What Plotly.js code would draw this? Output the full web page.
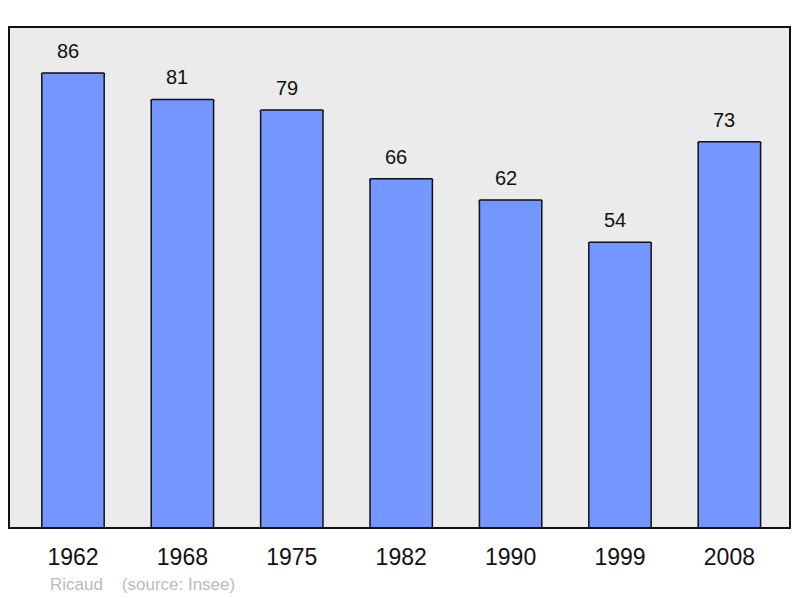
<!DOCTYPE html>
<html>
<head>
<meta charset="utf-8">
<script src="https://cdn.plot.ly/plotly-3.0.1.min.js"></script>
<style>
  body { margin: 0; background: #fff; }
  #chart { width: 800px; height: 598px; }
</style>
</head>
<body>
<div id="chart"></div>
<script>
// population by census year
var years = ['1962', '1968', '1975', '1982', '1990', '1999', '2008']
var population = [86, 81, 79, 66, 62, 54, 73]

var idx = years.map(function (y, i) { return i })

var data = [{
  x: idx,
  y: population,
  type: 'bar',
  width: 0.57,
  marker: {
    color: '#7396ff',
    line: { color: '#111111', width: 1.5 },
    cornerradius: 2
  },
  hoverinfo: 'none'
}]

var labels = []
for (i = 0; i < population.length; i++) {
  labels.push({
    x: idx[i],
    y: population[i],
    text: String(population[i]),
    showarrow: false,
    yshift: 22,
    xshift: -5,
    font: { family: 'Liberation Sans, Arial, sans-serif', size: 20, color: '#111' }
  })
}

labels.push({
  xref: 'paper', yref: 'paper',
  x: 39 / 781, y: -56 / 501,
  xanchor: 'left', yanchor: 'middle',
  text: 'Ricaud&nbsp;&nbsp;&nbsp;&nbsp;(source: Insee)',
  showarrow: false,
  font: { family: 'Liberation Sans, Arial, sans-serif', size: 17, color: '#bbbbbb' }
})

var layout = {
  width: 800,
  height: 598,
  paper_bgcolor: '#ffffff',
  plot_bgcolor: '#ebebeb',
  margin: { l: 9, r: 10, t: 27, b: 70 },
  showlegend: false,
  bargap: 0,
  xaxis: {
    range: [-0.585, 6.554],
    tickvals: idx,
    ticktext: years,
    showgrid: false,
    zeroline: false,
    ticks: '',
    ticklabelstandoff: 13,
    tickfont: { family: 'Liberation Sans, Arial, sans-serif', size: 23, color: '#111' },
    fixedrange: true
  },
  yaxis: {
    range: [0, 94.7],
    showgrid: false,
    zeroline: false,
    showticklabels: false,
    ticks: '',
    fixedrange: true
  },
  shapes: [{
    type: 'rect', xref: 'paper', yref: 'paper',
    x0: 0, x1: 1, y0: 0, y1: 1,
    line: { color: '#111111', width: 2 }
  }],
  annotations: labels
}

Plotly.newPlot('chart', data, layout, { displayModeBar: false, staticPlot: true })
</script>
</body>
</html>
